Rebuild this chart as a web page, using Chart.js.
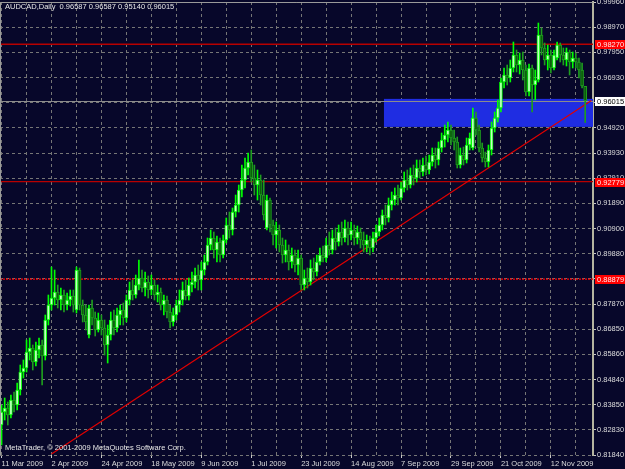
<!DOCTYPE html>
<html>
<head>
<meta charset="utf-8">
<title>AUDCAD, Daily</title>
<script src="https://cdn.jsdelivr.net/npm/chart.js@4/dist/chart.umd.min.js"></script>
<style>
  html, body { margin: 0; padding: 0; background: #07072a; }
  #wrap { position: relative; width: 625px; height: 469px; overflow: hidden; }
  .txt { position: absolute; left: 5px; font: 7.5px "Liberation Sans", Arial, sans-serif;
         color: #e6e6e6; white-space: pre; line-height: 10px; }
</style>
</head>
<body>
<div id="wrap">
  <canvas id="chart" width="625" height="469"></canvas>
  <div class="txt" id="head" style="top:2px"></div>
  <div class="txt" style="top:443px">MetaTrader, © 2001-2009 MetaQuotes Software Corp.</div>
</div>
<script>
// daily AUDCAD candles, 11 Mar 2009 .. 27 Nov 2009
const opens = [
  0.8304,0.8356,0.8372,0.8344,0.8404,0.8384,0.8444,0.8516,0.8532,0.8596,0.8612,0.8556,0.8604,0.8624,0.8580,0.8724,
  0.8784,0.8812,0.8836,0.8804,0.8824,0.8784,0.8804,0.8820,0.8764,0.8924,0.8784,0.8744,0.8664,0.8772,0.8732,0.8684,
  0.8724,0.8692,0.8624,0.8664,0.8724,0.8692,0.8744,0.8764,0.8732,0.8804,0.8844,0.8824,0.8864,0.8892,0.8852,0.8876,
  0.8844,0.8864,0.8824,0.8836,0.8784,0.8804,0.8756,0.8716,0.8744,0.8784,0.8804,0.8844,0.8820,0.8864,0.8876,0.8904,
  0.8884,0.8924,0.8956,0.9024,0.9052,0.9004,0.9036,0.8984,0.9044,0.9104,0.9084,0.9156,0.9184,0.9244,0.9284,0.9332,
  0.9356,0.9292,0.9264,0.9284,0.9224,0.9092,0.9204,0.9104,0.9064,0.9084,0.9024,0.8984,0.9004,0.8956,0.8984,0.8944,
  0.8972,0.8864,0.8892,0.8876,0.8932,0.8916,0.8956,0.8984,0.8972,0.9024,0.9004,0.9052,0.9036,0.9076,0.9052,0.9092,
  0.9064,0.9084,0.9052,0.9076,0.9044,0.9024,0.9044,0.9012,0.9052,0.9076,0.9104,0.9144,0.9132,0.9184,0.9204,0.9224,
  0.9212,0.9252,0.9284,0.9264,0.9304,0.9292,0.9332,0.9316,0.9344,0.9324,0.9356,0.9384,0.9364,0.9412,0.9444,0.9464,
  0.9484,0.9452,0.9436,0.9344,0.9384,0.9364,0.9424,0.9412,0.9532,0.9484,0.9412,0.9372,0.9356,0.9404,0.9492,0.9532,
  0.9572,0.9676,0.9704,0.9692,0.9732,0.9784,0.9744,0.9764,0.9724,0.9636,0.9732,0.9664,0.9684,0.9864,0.9812,0.9764,
  0.9784,0.9732,0.9772,0.9824,0.9784,0.9764,0.9796,0.9756,0.9772,0.9756,0.9724,0.96587
];
const highs = [
  0.8384,0.8412,0.8396,0.8424,0.8436,0.8472,0.8544,0.8564,0.8644,0.8652,0.8624,0.8636,0.8652,0.8644,0.8744,0.8824,
  0.8936,0.8924,0.8864,0.8852,0.8844,0.8832,0.8844,0.8844,0.8936,0.8932,0.8804,0.8784,0.8784,0.8804,0.8756,0.8752,
  0.8744,0.8724,0.8704,0.8756,0.8764,0.8772,0.8784,0.8792,0.8824,0.8876,0.8884,0.8904,0.8964,0.8924,0.8916,0.8900,
  0.8904,0.8884,0.8864,0.8852,0.8824,0.8820,0.8784,0.8772,0.8804,0.8844,0.8876,0.8884,0.8892,0.8916,0.8932,0.8944,
  0.8956,0.8984,0.9052,0.9084,0.9076,0.9060,0.9052,0.9064,0.9132,0.9156,0.9172,0.9224,0.9264,0.9344,0.9372,0.9392,
  0.9404,0.9344,0.9324,0.9304,0.9284,0.9224,0.9212,0.9124,0.9116,0.9104,0.9052,0.9044,0.9024,0.9012,0.9004,0.9004,
  0.8984,0.8924,0.8932,0.8964,0.8972,0.8984,0.9012,0.9020,0.9052,0.9076,0.9084,0.9092,0.9104,0.9116,0.9124,0.9116,
  0.9116,0.9104,0.9100,0.9092,0.9076,0.9064,0.9060,0.9076,0.9104,0.9132,0.9164,0.9184,0.9212,0.9236,0.9252,0.9264,
  0.9276,0.9316,0.9324,0.9332,0.9344,0.9364,0.9364,0.9372,0.9380,0.9384,0.9412,0.9412,0.9436,0.9472,0.9504,0.9516,
  0.9504,0.9484,0.9456,0.9412,0.9416,0.9452,0.9472,0.9572,0.9556,0.9504,0.9432,0.9396,0.9424,0.9516,0.9556,0.9604,
  0.9692,0.9732,0.9744,0.9764,0.9836,0.9804,0.9792,0.9796,0.9744,0.9748,0.9744,0.9724,0.9912,0.9892,0.9832,0.9824,
  0.9804,0.9804,0.9836,0.9832,0.9812,0.9812,0.9804,0.9796,0.9792,0.9772,0.9752,0.96587
];
const lows = [
  0.8224,0.8324,0.8304,0.8332,0.8356,0.8364,0.8424,0.8492,0.8516,0.8564,0.8524,0.8540,0.8572,0.8464,0.8564,0.8704,
  0.8764,0.8784,0.8772,0.8764,0.8756,0.8764,0.8780,0.8756,0.8752,0.8764,0.8716,0.8684,0.8652,0.8704,0.8660,0.8676,
  0.8664,0.8584,0.8552,0.8644,0.8664,0.8676,0.8704,0.8704,0.8716,0.8784,0.8804,0.8812,0.8844,0.8836,0.8820,0.8812,
  0.8824,0.8804,0.8796,0.8764,0.8744,0.8732,0.8692,0.8700,0.8724,0.8756,0.8784,0.8804,0.8804,0.8836,0.8852,0.8844,
  0.8844,0.8904,0.8944,0.9004,0.8972,0.8956,0.8956,0.8972,0.9032,0.9052,0.9064,0.9136,0.9156,0.9216,0.9252,0.9304,
  0.9276,0.9224,0.9204,0.9184,0.9124,0.9084,0.9076,0.9024,0.9012,0.8996,0.8952,0.8956,0.8924,0.8932,0.8916,0.8904,
  0.8844,0.8844,0.8852,0.8864,0.8884,0.8900,0.8944,0.8956,0.8956,0.8984,0.8988,0.9004,0.9020,0.9024,0.9036,0.9024,
  0.9044,0.9024,0.9028,0.9012,0.8996,0.8996,0.8984,0.8996,0.9036,0.9060,0.9084,0.9104,0.9116,0.9164,0.9184,0.9184,
  0.9204,0.9236,0.9244,0.9252,0.9264,0.9276,0.9292,0.9300,0.9304,0.9308,0.9340,0.9332,0.9344,0.9396,0.9416,0.9436,
  0.9424,0.9404,0.9332,0.9332,0.9344,0.9352,0.9404,0.9404,0.9464,0.9396,0.9356,0.9336,0.9336,0.9384,0.9476,0.9516,
  0.9556,0.9652,0.9664,0.9676,0.9716,0.9716,0.9708,0.9684,0.9620,0.9620,0.9556,0.9604,0.9676,0.9784,0.9744,0.9724,
  0.9712,0.9724,0.9764,0.9756,0.9744,0.9740,0.9704,0.9732,0.9732,0.9692,0.9652,0.95140
];
const closes = [
  0.8356,0.8372,0.8344,0.8404,0.8384,0.8444,0.8516,0.8532,0.8596,0.8612,0.8556,0.8604,0.8624,0.8580,0.8724,0.8784,
  0.8812,0.8836,0.8804,0.8824,0.8784,0.8804,0.8820,0.8784,0.8924,0.8784,0.8744,0.8716,0.8772,0.8732,0.8684,0.8724,
  0.8692,0.8624,0.8664,0.8724,0.8692,0.8744,0.8764,0.8732,0.8804,0.8844,0.8824,0.8864,0.8892,0.8852,0.8876,0.8844,
  0.8864,0.8824,0.8836,0.8784,0.8804,0.8756,0.8716,0.8744,0.8784,0.8804,0.8844,0.8820,0.8864,0.8876,0.8904,0.8884,
  0.8924,0.8956,0.9024,0.9052,0.9004,0.9036,0.8984,0.9044,0.9104,0.9084,0.9156,0.9184,0.9244,0.9284,0.9332,0.9356,
  0.9292,0.9264,0.9284,0.9224,0.9144,0.9204,0.9104,0.9064,0.9084,0.9024,0.8984,0.9004,0.8956,0.8984,0.8944,0.8972,
  0.8864,0.8892,0.8876,0.8932,0.8916,0.8956,0.8984,0.8972,0.9024,0.9004,0.9052,0.9036,0.9076,0.9052,0.9092,0.9064,
  0.9084,0.9052,0.9076,0.9044,0.9024,0.9044,0.9012,0.9052,0.9076,0.9104,0.9144,0.9132,0.9184,0.9204,0.9224,0.9212,
  0.9252,0.9284,0.9264,0.9304,0.9292,0.9332,0.9316,0.9344,0.9324,0.9356,0.9384,0.9364,0.9412,0.9444,0.9464,0.9484,
  0.9452,0.9436,0.9344,0.9384,0.9364,0.9424,0.9452,0.9532,0.9484,0.9412,0.9372,0.9356,0.9404,0.9492,0.9532,0.9572,
  0.9676,0.9704,0.9692,0.9732,0.9784,0.9744,0.9764,0.9724,0.9636,0.9732,0.9664,0.9684,0.9864,0.9812,0.9764,0.9784,
  0.9732,0.9784,0.9824,0.9784,0.9764,0.9796,0.9756,0.9772,0.9756,0.9724,0.9660,0.96015
];

const xTickLabels = ['11 Mar 2009', '2 Apr 2009', '24 Apr 2009', '18 May 2009', '9 Jun 2009', '1 Jul 2009',
  '23 Jul 2009', '14 Aug 2009', '7 Sep 2009', '29 Sep 2009', '21 Oct 2009', '12 Nov 2009'];
const xTickEvery = 16;

// price scale, top to bottom ('' = label hidden behind a price tag)
const yTickLabels = ['0.99960', '0.98970', '0.97950', '0.96930', '', '0.94920', '0.93930', '0.92910', '0.91890',
  '0.90900', '0.89880', '', '0.87870', '0.86850', '0.85860', '0.84840', '0.83850', '0.82830', '0.81840'];
const yMax = 0.99960;
const yMin = 0.81840;

const levelPrices = [0.98270, 0.92779, 0.88879];
const levelTags = ['0.98270', '0.92779', '0.88879'];
const bidPrice = 0.96015;
const bidTag = '0.96015';
const zoneStart = 123;
const zonePrices = [0.94965, 0.96085];
const trendIdx = [16, 189];
const trendPrices = [0.8188, 0.9602];

// styles
const BG = '#07072a';
const GRID = '#767676';
const TXT = '#dcdcdc';
const FONT = { family: 'Liberation Sans', size: 7.5 };
const levelColors = ['#b80000', '#b80000', '#ff0000'];
const levelDash = [[], [], [2, 1]];

// weekday categories from 11 Mar 2009, plus the empty right margin
const MONTHS = ['Jan', 'Feb', 'Mar', 'Apr', 'May', 'Jun', 'Jul', 'Aug', 'Sep', 'Oct', 'Nov', 'Dec'];
const categories = [];
for (let d = new Date(2009, 2, 11); categories.length < 190; d.setDate(d.getDate() + 1)) {
  if (d.getDay() % 6 !== 0) categories.push(`${d.getDate()} ${MONTHS[d.getMonth()]} ${d.getFullYear()}`);
}

const last = opens.length - 1;
document.getElementById('head').textContent =
  `AUDCAD,Daily  ${opens[last].toFixed(5)} ${highs[last].toFixed(5)} ${lows[last].toFixed(5)} ${closes[last].toFixed(5)}`;

const isUp = opens.map((o, i) => closes[i] >= o);
const trendData = categories.map(() => null);
trendIdx.forEach((k, i) => { trendData[k] = trendPrices[i]; });

const drawTag = (ctx, x, yPix, bg, fg, text) => {
  ctx.fillStyle = bg;
  ctx.fillRect(x, Math.round(yPix) - 4, 625 - x, 9);
  ctx.fillStyle = fg;
  ctx.font = '7.5px "Liberation Sans"';
  ctx.textBaseline = 'middle';
  ctx.textAlign = 'left';
  ctx.fillText(text, x + 2, Math.round(yPix) + 0.5);
};

const overlays = {
  id: 'overlays',
  beforeDraw(chart) {
    const { ctx, width, height } = chart;
    ctx.save();
    ctx.fillStyle = BG;
    ctx.fillRect(0, 0, width, height);
    ctx.restore();
  },
  beforeDatasetsDraw(chart) {
    const { ctx, chartArea: a, scales: { x, y } } = chart;
    ctx.save();
    ctx.beginPath();
    ctx.rect(a.left, a.top, a.right - a.left, a.bottom - a.top);
    ctx.clip();

    // support zone
    const zx = x.getPixelForValue(zoneStart) - 1.5;
    const zt = y.getPixelForValue(zonePrices[1]);
    const zb = y.getPixelForValue(zonePrices[0]);
    ctx.fillStyle = '#1f2de2';
    ctx.fillRect(zx, zt, a.right - zx, zb - zt);

    // horizontal levels
    levelPrices.forEach((p, i) => {
      const py = y.getPixelForValue(p);
      ctx.strokeStyle = levelColors[i];
      ctx.lineWidth = 1.3;
      ctx.setLineDash(levelDash[i]);
      ctx.beginPath();
      ctx.moveTo(a.left, py);
      ctx.lineTo(a.right, py);
      ctx.stroke();
    });

    // bid line
    const by = Math.round(y.getPixelForValue(bidPrice)) + 0.5;
    ctx.setLineDash([]);
    ctx.lineWidth = 1;
    ctx.strokeStyle = '#8c8c8c';
    ctx.beginPath();
    ctx.moveTo(a.left, by);
    ctx.lineTo(a.right, by);
    ctx.stroke();
    ctx.restore();
  },
  afterDraw(chart) {
    const { ctx, chartArea: a, scales: { y } } = chart;
    ctx.save();
    // frame on left and top
    ctx.strokeStyle = '#9a9a9a';
    ctx.lineWidth = 1;
    ctx.beginPath();
    ctx.moveTo(a.left + 0.5, a.bottom);
    ctx.lineTo(a.left + 0.5, a.top + 0.5);
    ctx.lineTo(a.right, a.top + 0.5);
    ctx.stroke();

    levelPrices.forEach((p, i) => drawTag(ctx, a.right + 2, y.getPixelForValue(p), '#ff0000', '#ffe8e8', levelTags[i]));
    drawTag(ctx, a.right + 2, y.getPixelForValue(bidPrice), '#ffffff', '#000000', bidTag);
    ctx.restore();
  }
};

new Chart(document.getElementById('chart'), {
  type: 'bar',
  data: {
    labels: categories,
    datasets: [
      {
        type: 'line',
        data: trendData,
        borderColor: '#e00000',
        borderWidth: 1.2,
        pointRadius: 0,
        spanGaps: true,
        order: 3
      },
      {
        data: lows.map((l, i) => [l, highs[i]]),
        backgroundColor: isUp.map(u => u ? '#00ff00' : '#1e9e1e'),
        barThickness: 1,
        grouped: false,
        order: 2
      },
      {
        data: opens.map((o, i) => [o, closes[i]]),
        backgroundColor: isUp.map(u => u ? '#c4ffc4' : '#0b5c0b'),
        borderColor: isUp.map(u => u ? '#00ff00' : '#1e9e1e'),
        borderWidth: 1,
        borderSkipped: false,
        barThickness: 3,
        grouped: false,
        order: 1
      }
    ]
  },
  options: {
    responsive: false,
    animation: false,
    devicePixelRatio: 1,
    layout: { padding: { top: 2, left: 0, right: 0, bottom: 0 } },
    plugins: { legend: { display: false }, tooltip: { enabled: false } },
    scales: {
      x: {
        offset: true,
        afterFit: s => { s.height = 14; s.paddingLeft = 0; s.paddingRight = 0; },
        ticks: {
          autoSkip: false, maxRotation: 0, minRotation: 0, align: 'start', padding: 1,
          color: TXT, font: FONT,
          callback: (v, i) => i % xTickEvery === 0 && xTickLabels[i / xTickEvery] ? xTickLabels[i / xTickEvery] : ''
        },
        grid: {
          offset: false,
          color: c => c.index % (xTickEvery / 2) === 0 ? GRID : 'transparent',
          tickColor: c => c.index % xTickEvery === 0 ? '#c8c8c8' : 'transparent',
          tickLength: 3
        },
        border: { display: false, dash: [3, 3] }
      },
      y: {
        position: 'right',
        min: yMin,
        max: yMax,
        afterBuildTicks: s => {
          const n = yTickLabels.length;
          s.ticks = yTickLabels.map((_, i) => ({ value: yMin + i * (yMax - yMin) / (n - 1) }));
        },
        afterFit: s => { s.width = 32; s.paddingTop = 0; s.paddingBottom = 0; },
        ticks: {
          autoSkip: false, padding: 1, color: TXT, font: FONT,
          callback: (v, i) => yTickLabels[yTickLabels.length - 1 - i]
        },
        grid: { color: GRID, tickColor: '#c8c8c8', tickLength: 3 },
        border: { color: '#b4b4a0', width: 2, dash: [3, 3] }
      }
    }
  },
  plugins: [overlays]
});
</script>
</body>
</html>
